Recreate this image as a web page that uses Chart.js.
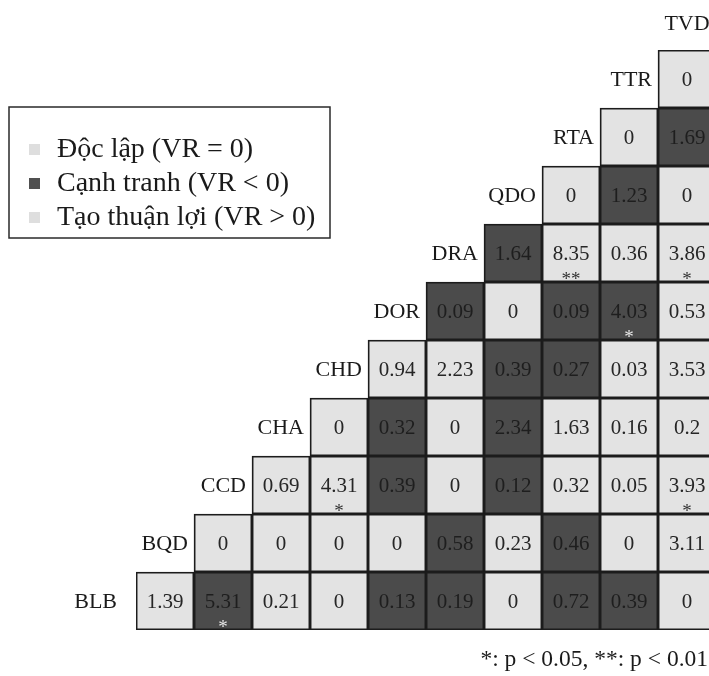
<!DOCTYPE html>
<html>
<head>
<meta charset="utf-8">
<script src="https://cdn.jsdelivr.net/npm/chart.js@4.4.1/dist/chart.umd.min.js"></script>
<style>
  html, body { margin: 0; padding: 0; overflow: hidden; background: #ffffff; }
  #wrap { position: absolute; left: 0; top: 0; width: 720px; height: 676px; }
</style>
</head>
<body>
<div id="wrap"><canvas id="chart"></canvas></div>
<script>
// Species codes, bottom row first
const species = ['BLB', 'BQD', 'CCD', 'CHA', 'CHD', 'DOR', 'DRA', 'QDO', 'RTA', 'TTR', 'TVD'];
const columnSpecies = species.slice(1);   // BQD ... TVD
const rowSpecies = species.slice(0, 10);  // BLB ... TTR

// Pairwise values, one row per species, from its first partner to TVD
const valuesBLB = [1.39, 5.31, 0.21, 0, 0.13, 0.19, 0, 0.72, 0.39, 0];
const valuesBQD = [0, 0, 0, 0, 0.58, 0.23, 0.46, 0, 3.11];
const valuesCCD = [0.69, 4.31, 0.39, 0, 0.12, 0.32, 0.05, 3.93];
const valuesCHA = [0, 0.32, 0, 2.34, 1.63, 0.16, 0.2];
const valuesCHD = [0.94, 2.23, 0.39, 0.27, 0.03, 3.53];
const valuesDOR = [0.09, 0, 0.09, 4.03, 0.53];
const valuesDRA = [1.64, 8.35, 0.36, 3.86];
const valuesQDO = [0, 1.23, 0];
const valuesRTA = [0, 1.69];
const valuesTTR = [0];

// Sign of the variance ratio: -1 competition, 0 independent, 1 facilitation
const signBLB = [1, -1, 1, 0, -1, -1, 0, -1, -1, 0];
const signBQD = [0, 0, 0, 0, -1, 1, -1, 0, 1];
const signCCD = [1, 1, -1, 0, -1, 1, 1, 1];
const signCHA = [0, -1, 0, -1, 1, 1, 1];
const signCHD = [1, 1, -1, -1, 1, 1];
const signDOR = [-1, 0, -1, -1, 1];
const signDRA = [-1, 1, 1, 1];
const signQDO = [0, -1, 0];
const signRTA = [0, -1];
const signTTR = [0];

// Significant pairs: [row species, column species, marker]
const significantPairs = [
  ['BLB', 'CCD', '*'],
  ['CCD', 'CHD', '*'],
  ['CCD', 'TVD', '*'],
  ['DOR', 'TTR', '*'],
  ['DRA', 'RTA', '**'],
  ['DRA', 'TVD', '*']
];

// Legend entries
const legendLabels = ['Độc lập (VR = 0)', 'Cạnh tranh (VR < 0)', 'Tạo thuận lợi (VR > 0)'];
const legendSigns = [0, -1, 1];
const footnote = '*: p < 0.05, **: p < 0.01';

const rowValues = [valuesBLB, valuesBQD, valuesCCD, valuesCHA, valuesCHD, valuesDOR, valuesDRA, valuesQDO, valuesRTA, valuesTTR];
const rowSigns = [signBLB, signBQD, signCCD, signCHA, signCHD, signDOR, signDRA, signQDO, signRTA, signTTR];

const LIGHT = '#e3e3e3';
const DARK = '#4b4b4b';
const LEGEND_LIGHT = '#dedede';
const SERIF = '"Liberation Serif", "Times New Roman", serif';
const colorFor = s => (s < 0 ? DARK : LIGHT);

// One floating-bar dataset per row: each cell spans [row, row + 1]
const datasets = rowSpecies.map((name, r) => {
  const data = [];
  const colors = [];
  for (let j = 0; j < columnSpecies.length; j++) {
    if (j < r) { data.push(null); colors.push('rgba(0,0,0,0)'); }
    else {
      data.push([r, r + 1]);
      colors.push(colorFor(rowSigns[r][j - r]));
    }
  }
  return {
    label: name,
    data,
    backgroundColor: colors,
    borderColor: '#1c1c1c',
    borderWidth: 1.8,
    borderSkipped: false,
    barPercentage: 1,
    categoryPercentage: 1,
    grouped: false
  };
});

const cellText = {
  id: 'cellText',
  afterDatasetsDraw(chart) {
    const ctx = chart.ctx;
    ctx.save();
    chart.data.datasets.forEach((ds, r) => {
      const meta = chart.getDatasetMeta(r);
      const vals = rowValues[r];
      meta.data.forEach((bar, j) => {
        if (j < r) return;
        const k = j - r;
        const cx = bar.x;
        const cy = (bar.y + bar.base) / 2;
        const dark = rowSigns[r][k] < 0;
        ctx.fillStyle = dark ? '#1e1e1e' : '#262626';
        ctx.font = '21px ' + SERIF;
        ctx.textAlign = 'center';
        ctx.textBaseline = 'middle';
        ctx.fillText(String(vals[k]), cx, cy + 1);
        const sig = significantPairs.find(p => p[0] === rowSpecies[r] && p[1] === columnSpecies[j]);
        if (sig) {
          ctx.fillStyle = dark ? '#e6e6e6' : '#333333';
          ctx.font = '19px ' + SERIF;
          ctx.textBaseline = 'alphabetic';
          ctx.fillText(sig[2], cx, cy + 32);
        }
      });
      // species name to the left of the row's first cell
      const first = meta.data[r];
      const left = first.x - first.width / 2;
      const gap = r === 0 ? 19 : 6;
      ctx.fillStyle = '#1a1a1a';
      ctx.font = '22px ' + SERIF;
      ctx.textAlign = 'right';
      ctx.textBaseline = 'middle';
      ctx.fillText(rowSpecies[r], left - gap, (first.y + first.base) / 2 + 1);
    });
    // last species name above its column
    const lastMeta = chart.getDatasetMeta(rowSpecies.length - 1);
    const topBar = lastMeta.data[columnSpecies.length - 1];
    ctx.textAlign = 'center';
    ctx.textBaseline = 'middle';
    ctx.font = '22px ' + SERIF;
    ctx.fillStyle = '#1a1a1a';
    ctx.fillText(species[species.length - 1], topBar.x, topBar.y - 26);
    ctx.restore();
  }
};

const legendBox = {
  id: 'legendBox',
  afterDraw(chart) {
    const ctx = chart.ctx;
    ctx.save();
    ctx.strokeStyle = '#2a2a2a';
    ctx.lineWidth = 1.5;
    ctx.fillStyle = '#ffffff';
    ctx.fillRect(9, 107, 321, 131);
    ctx.strokeRect(9, 107, 321, 131);
    legendLabels.forEach((txt, i) => {
      const y = 150 + i * 34;
      ctx.fillStyle = legendSigns[i] < 0 ? '#505050' : LEGEND_LIGHT;
      ctx.fillRect(29, y - 6, 11, 11);
      ctx.fillStyle = '#1a1a1a';
      ctx.font = '28px ' + SERIF;
      ctx.textAlign = 'left';
      ctx.textBaseline = 'middle';
      ctx.fillText(txt, 57, y);
    });
    ctx.font = '23.5px ' + SERIF;
    ctx.textAlign = 'right';
    ctx.textBaseline = 'middle';
    ctx.fillStyle = '#1a1a1a';
    ctx.fillText(footnote, 708, 660);
    ctx.restore();
  }
};

new Chart(document.getElementById('chart'), {
  type: 'bar',
  data: { labels: columnSpecies, datasets },
  options: {
    responsive: true,
    maintainAspectRatio: false,
    animation: false,
    layout: { padding: { left: 136, right: 4, top: 50, bottom: 46 } },
    scales: {
      x: { type: 'category', display: false, offset: true, stacked: false },
      y: { type: 'linear', display: false, min: 0, max: 10 }
    },
    plugins: {
      legend: { display: false },
      tooltip: { enabled: false }
    }
  },
  plugins: [cellText, legendBox]
});
</script>
</body>
</html>
